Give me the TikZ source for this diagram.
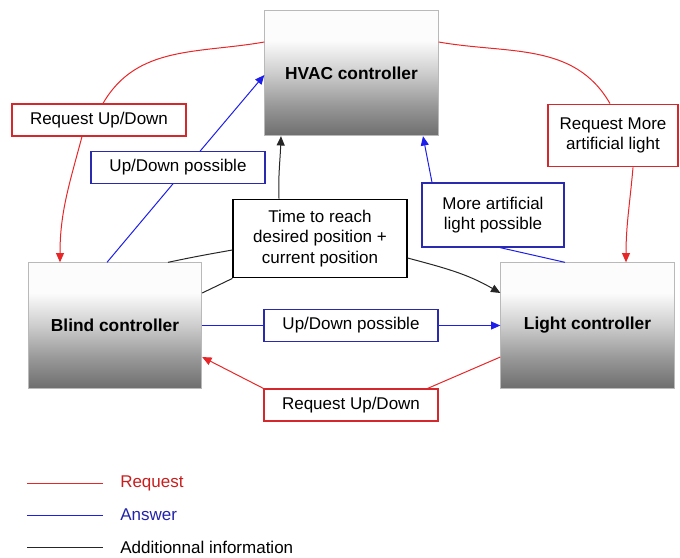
\documentclass[tikz,border=0pt]{standalone}
\usepackage{fontspec}
\setmainfont{Liberation Sans}
\usepackage{tikz}
\usetikzlibrary{arrows.meta, calc}

\definecolor{reqred}{RGB}{232,38,40}
\definecolor{reqbox}{RGB}{212,40,44}
\definecolor{ansblue}{RGB}{30,30,235}
\definecolor{ansbox}{RGB}{42,42,175}
\definecolor{boxedge}{RGB}{185,185,185}
\definecolor{legred}{RGB}{200,30,30}
\definecolor{legblue}{RGB}{35,35,170}
\definecolor{shadeA}{RGB}{252,252,252}
\definecolor{shadeB}{RGB}{205,205,205}
\definecolor{shadeC}{RGB}{152,152,152}
\definecolor{shadeD}{RGB}{110,110,110}

\pgfdeclareverticalshading{ctrlshade}{100bp}{color(0bp)=(shadeD); color(25bp)=(shadeD); color(37bp)=(shadeC); color(50bp)=(shadeB); color(63bp)=(shadeA); color(75bp)=(shadeA); color(100bp)=(shadeA)}

\tikzset{
    every node/.style = {font=\fontsize{12.75}{15.5}\selectfont},
    ctrl/.style = {draw=boxedge, line width=0.75pt, shading=ctrlshade,
        minimum width=130pt, minimum height=94pt, inner sep=0pt,
        font=\fontsize{13}{15}\selectfont\bfseries},
    lbl/.style = {draw, fill=white, line width=0.9pt, inner sep=0pt, align=center},
    reqlbl/.style = {lbl, draw=reqbox},
    anslbl/.style = {lbl, draw=ansbox},
    infolbl/.style = {lbl, draw=black},
    request/.style = {draw=reqred, line width=0.75pt},
    answer/.style = {draw=ansblue, line width=0.75pt},
    info/.style = {draw=black!85, line width=0.75pt},
    tip/.style = {-{Triangle[length=7pt, width=6pt]}},
    legtext/.style = {anchor=west, inner sep=0pt}
}

\begin{document}
\begin{tikzpicture}[x = 0.75pt , y = 0.75pt]
    \useasboundingbox (0,0) rectangle (680,-557);

    % controllers
    \node[ctrl] (hvac)  at (351.5,-73)   {HVAC controller};
    \node[ctrl] (blind) at (115,-325.5)  {Blind controller};
    \node[ctrl] (light) at (587.5,-325.5) {Light controller};

    % labels
    \node[reqlbl , minimum width=130.5pt , minimum height=24pt] (lblReqL) at (99,-120) {Request Up/Down};
    \node[anslbl , minimum width=130.5pt , minimum height=23.5pt] (lblAnsL) at (178,-167.5) {Up/Down possible};
    \node[infolbl , minimum width=130.5pt , minimum height=59pt] (lblInfo) at (320,-238.5) {Time to reach\\desired position +\\current position};
    \node[anslbl , minimum width=106.5pt , minimum height=48pt] (lblAnsR) at (493,-215) {More artificial\\light possible};
    \node[reqlbl , minimum width=97.5pt , minimum height=47pt] (lblReqR) at (613,-135.5) {Request More\\artificial light};
    \node[anslbl , minimum width=130.5pt , minimum height=23.5pt] (lblAnsM) at (351,-325.5) {Up/Down possible};
    \node[reqlbl , minimum width=130.5pt , minimum height=24pt] (lblReqM) at (351,-405) {Request Up/Down};

    % blind <-> hvac
    \draw[request] ($(hvac.west)+(0,31)$) to[out=190 , in=60] ($(lblReqL.north)+(4,0)$);
    \draw[request , tip] ($(lblReqL.south)+(-17,0)$) to[out=255 , in=90] ($(blind.north)+(-55,0)$);
    \draw[answer] ($(blind.north)+(-8,0)$) -- ($(lblAnsL.south)+(-5,0)$);
    \draw[answer , tip] ($(lblAnsL.north)+(22,0)$) -- ($(hvac.west)+(0,-2)$);

    % additional information
    \draw[info] ($(blind.north)+(53,0)$) to[out=12 , in=190] ($(lblInfo.west)+(0,-11.5)$);
    \draw[info] ($(blind.east)+(0,32.5)$) -- (lblInfo.south west);
    \draw[info , tip] ($(lblInfo.north)+(-41,0)$) to[out=92 , in=268] ($(hvac.south)+(-70.5,0)$);
    \draw[info , tip] ($(lblInfo.east)+(0,-19.5)$) to[out=-15 , in=150] ($(light.west)+(0,32.5)$);

    % blind <-> light
    \draw[answer] (blind.east) -- (lblAnsM.west);
    \draw[answer , tip] (lblAnsM.east) -- (light.west);
    \draw[request] ($(light.west)+(0,-31.5)$) -- ($(lblReqM.north east)+(-11,0)$);
    \draw[request , tip] (lblReqM.north west) -- ($(blind.east)+(0,-31.5)$);

    % light <-> hvac
    \draw[request] ($(hvac.east)+(0,31)$) to[out=-10 , in=120] ($(lblReqR.north)+(-3,0)$);
    \draw[request , tip] ($(lblReqR.south)+(20,0)$) to[out=265 , in=90] ($(light.north)+(38.5,0)$);
    \draw[answer] ($(light.north)+(-22.5,0)$) -- ($(lblAnsR.south)+(7,0)$);
    \draw[answer , tip] ($(lblAnsR.north)+(-61,0)$) -- ($(hvac.south)+(71.5,0)$);

    % legend
    \coordinate (legReqA) at (27,-483);
    \coordinate (legReqB) at (103,-483);
    \node[legtext , text=legred] (legReq) at (120,-483) {Request};
    \draw[request] (legReqA) -- (legReqB);
    \coordinate (legAnsA) at (27,-515);
    \coordinate (legAnsB) at (103,-515);
    \node[legtext , text=legblue] (legAns) at (120,-515) {Answer};
    \draw[answer] (legAnsA) -- (legAnsB);
    \coordinate (legInfoA) at (27,-547);
    \coordinate (legInfoB) at (103,-547);
    \node[legtext] (legInfo) at (120,-547) {Additionnal information};
    \draw[info] (legInfoA) -- (legInfoB);
\end{tikzpicture}
\end{document}
